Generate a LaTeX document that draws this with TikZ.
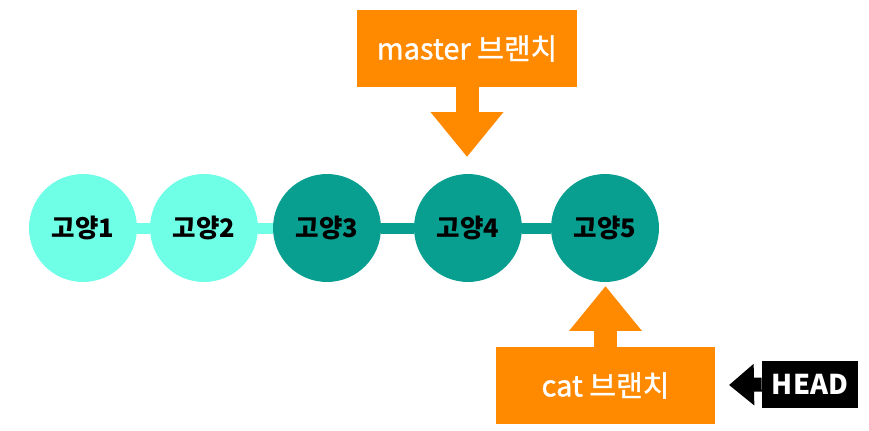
\documentclass[tikz,border=0pt]{standalone}
\usepackage{fontspec}
\setmainfont{Noto Sans CJK KR}
\newfontfamily\brfont[FakeBold=1.2]{Noto Sans CJK KR}
\usetikzlibrary{arrows.meta}
\definecolor{mint}{RGB}{111,255,230}
\definecolor{teal}{RGB}{8,158,144}
\definecolor{brorange}{RGB}{255,138,0}
\tikzset{
	cat/.style={circle, minimum size=2.16cm, inner sep=0pt, font=\fontsize{14.5}{16}\selectfont\bfseries},
	link/.style={line width=0.22cm},
	branch/.style={fill=brorange, text=white, minimum height=1.54cm, inner sep=0pt, font=\brfont\fontsize{16.5}{18}\selectfont},
	fat/.style={brorange, line width=0.46cm, -{Triangle[length=0.9cm, width=1.4cm]}}
}
\begin{document}
\begin{tikzpicture}[x=0.02cm, y=-0.02cm]
			%%%%% START %%%%%
			\useasboundingbox (0, 0) rectangle (869, 430);
			
			\node[cat, fill=mint] (c1) at (83, 228) {고양1};
			\node[cat, fill=mint] (c2) at (204, 228) {고양2};
			\node[cat, fill=teal] (c3) at (327, 228) {고양3};
			\node[cat, fill=teal] (c4) at (468, 228) {고양4};
			\node[cat, fill=teal] (c5) at (605, 228) {고양5};
			
			\draw[link, mint] (c1) -- (c2);
			\draw[link, mint] (c2) -- (c3);
			\draw[link, teal] (c3) -- (c4);
			\draw[link, teal] (c4) -- (c5);
			
			\node[branch, minimum width=4.4cm] (master) at (467, 48.5) {master 브랜치};
			\coordinate (mtip) at (467, 157);
			\draw[fat] (master.south) -- (mtip);
			
			\node[branch, minimum width=4.38cm] (catbr) at (605.5, 385.5) {cat 브랜치};
			\coordinate (ctip) at (605.5, 286);
			\draw[fat] (catbr.north) -- (ctip);
			
			\node[fill=black, text=white, minimum width=1.92cm, minimum height=0.94cm, inner sep=0pt, font=\fontsize{15.5}{17}\selectfont\bfseries] (head) at (810, 384.5) {HEAD};
			\coordinate (htip) at (729, 385);
			\draw[line width=0.28cm, -{Triangle[length=0.5cm, width=0.8cm]}] (head.west) -- (htip);
			%%%%% END %%%%%
		\end{tikzpicture}
\end{document}
